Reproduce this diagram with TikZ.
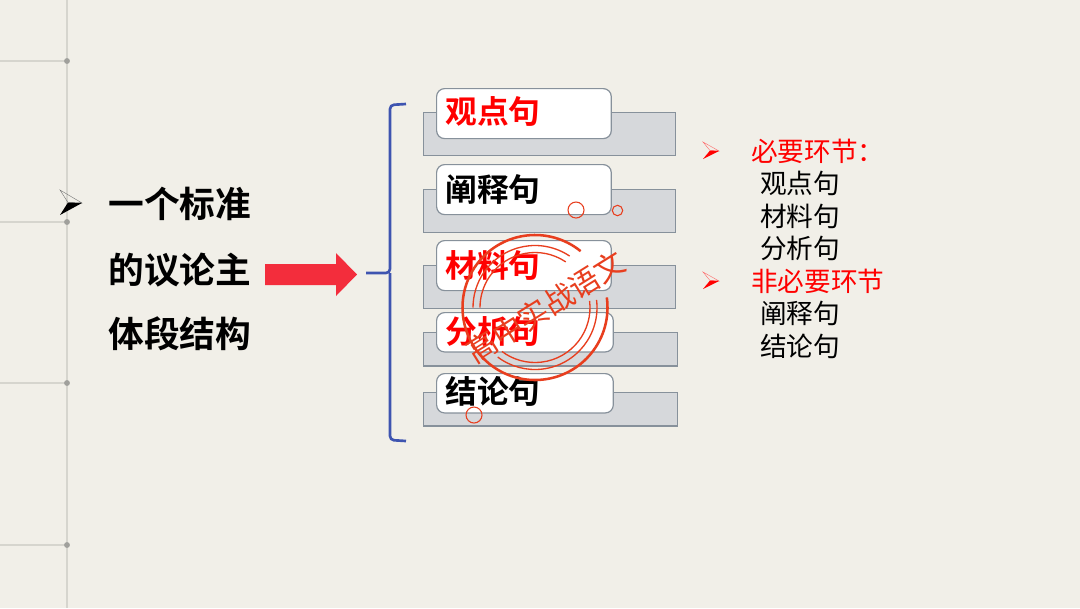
\documentclass[tikz,border=0pt]{standalone}
\usepackage{fontspec}
\setmainfont{Noto Sans CJK SC}
\newfontfamily\cjkbold{Noto Sans CJK SC Bold}
\definecolor{paper}{RGB}{241,239,232}
\definecolor{gridline}{RGB}{214,213,206}
\definecolor{griddot}{RGB}{160,160,156}
\definecolor{barfill}{RGB}{214,216,219}
\definecolor{bardraw}{RGB}{135,145,155}
\definecolor{bracecol}{RGB}{62,84,176}
\definecolor{stampcol}{RGB}{232,62,30}
\definecolor{arrowred}{RGB}{243,45,60}
\tikzset{
    barbox/.style={draw=bardraw, fill=barfill, line width=0.9pt, minimum width=189pt, anchor=north west, inner sep=0pt},
    namebox/.style={draw=bardraw, fill=white, line width=0.9pt, rounded corners=6pt, minimum width=131pt, anchor=north west, inner sep=0pt},
    nametext/.style={font=\cjkbold\fontsize{23.8}{25}\selectfont, anchor=west, inner sep=0pt},
    listtext/.style={font=\fontsize{20}{22}\selectfont, anchor=west, inner sep=0pt},
    headtext/.style={font=\fontsize{20}{22}\selectfont, text=red, anchor=west, inner sep=0pt},
    titletext/.style={font=\cjkbold\fontsize{26.8}{28}\selectfont, anchor=west, inner sep=0pt},
    ring/.style={draw=stampcol, line width=1pt},
    smallring/.style={draw=stampcol, line width=0.8pt}
}
\begin{document}
\begin{tikzpicture}[x=0.75pt,y=-0.75pt]
    \fill[paper] (0,0) rectangle (1080,608);
    \useasboundingbox (0,0) rectangle (1080,608);

    % margin lines
    \draw[gridline, line width=2pt] (67,0) -- (67,608);
    \foreach \yy in {61,222,383,545} {
        \draw[gridline, line width=1.5pt] (0,\yy) -- (67,\yy);
        \fill[griddot] (67,\yy) circle (2.2pt);
    }

    % title
    \draw[black!55, line width=0.3pt] (60,190) -- (82,203) -- (68,202.5) -- cycle;
    \fill[black] (82,203) -- (60,215) -- (68,202.5) -- cycle;
    \node[titletext] (t1) at (108,204) {一个标准};
    \node[titletext] (t2) at (108,270) {的议论主};
    \node[titletext] (t3) at (108,334) {体段结构};
    \fill[arrowred] (265,264) -- (336,264) -- (336,253) -- (357,274.5) -- (336,296) -- (336,285) -- (265,285) -- cycle;

    % bracket
    \coordinate (b1) at (406,104);
    \coordinate (b2) at (406,441);
    \coordinate (b3) at (366,273);
    \draw[bracecol, line width=2pt, rounded corners=3pt] (b1) -- (390,105) -- (390,273) -- (b3);
    \draw[bracecol, line width=2pt, rounded corners=3pt] (b2) -- (390,440) -- (390,273);

    % boxes
    \node[barbox, minimum height=32pt] (bar1) at (423,112) {};
    \node[namebox, minimum height=37.5pt] (name1) at (436,88) {};
    \node[nametext, text=red] (lab1) at (445,111) {观点句};

    \node[barbox, minimum height=32pt] (bar2) at (423,189) {};
    \node[namebox, minimum height=37.5pt] (name2) at (436,164) {};
    \node[nametext] (lab2) at (445,189) {阐释句};

    \node[barbox, minimum height=32pt] (bar3) at (423,265) {};
    \node[namebox, minimum height=37.5pt] (name3) at (436,240) {};
    \node[nametext, text=red] (lab3) at (445,265) {材料句};

    \node[barbox, minimum width=190.5pt, minimum height=25pt] (bar4) at (423,332) {};
    \node[namebox, minimum width=132.5pt, minimum height=29.5pt] (name4) at (436,312) {};
    \node[nametext, text=red] (lab4) at (445,331) {分析句};

    \node[barbox, minimum width=190.5pt, minimum height=25pt] (bar5) at (423,392) {};
    \node[namebox, minimum width=132.5pt, minimum height=29.5pt] (name5) at (436,373) {};
    \node[nametext] (lab5) at (445,391) {结论句};

    % small red circles
    \draw[smallring] (576,210) circle (6pt);
    \draw[smallring] (617.5,210.5) circle (3.9pt);
    \draw[smallring] (474,415) circle (6pt);

    % right list
    \draw[red!60, line width=0.3pt] (703,142) -- (719,151) -- (710,150.5) -- cycle;
    \fill[red] (719,151) -- (703,159) -- (710,150.5) -- cycle;
    \node[headtext] (h1) at (751,151) {必要环节：};
    \node[listtext] (l1) at (760,183) {观点句};
    \node[listtext] (l2) at (760,216) {材料句};
    \node[listtext] (l3) at (760,248) {分析句};
    \draw[red!60, line width=0.3pt] (703,272) -- (719,281) -- (710,280.5) -- cycle;
    \fill[red] (719,281) -- (703,289) -- (710,280.5) -- cycle;
    \node[headtext] (h2) at (751,281) {非必要环节};
    \node[listtext] (l4) at (760,313) {阐释句};
    \node[listtext] (l5) at (760,346) {结论句};

    % stamp
    \begin{scope}[shift={(535,307.5)}, y=0.75pt]
        \draw[ring, line width=1.9pt] (51:72.5) arc (51:368:72.5);
        \foreach \rr in {62,55} {
            \draw[ring] (56:\rr) arc (56:180:\rr);
            \draw[ring] (7:\rr) arc (7:-127:\rr);
        }
    \end{scope}
    \node[rotate=32, text=stampcol, font=\fontsize{22.5}{24}\selectfont, inner sep=0pt] (stamp) at (546,307) {高中实战语文};
\end{tikzpicture}
\end{document}
